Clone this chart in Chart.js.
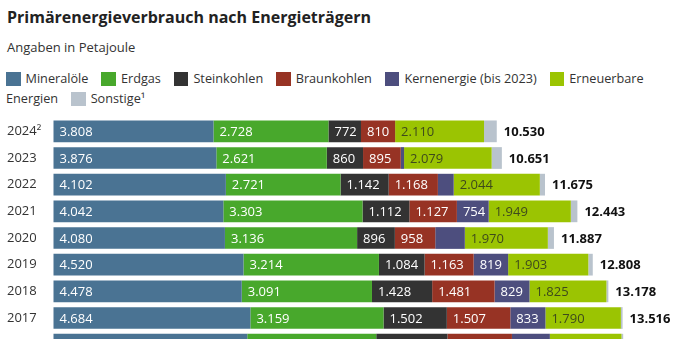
<!DOCTYPE html>
<html lang="de">
<head>
<meta charset="utf-8">
<script src="https://cdn.jsdelivr.net/npm/chart.js@4.4.1/dist/chart.umd.min.js"></script>
<style>
  html, body { margin: 0; padding: 0; width: 678px; height: 339px; overflow: hidden; background: #fff; }
  body { font-family: "Open Sans", sans-serif; color: #222; position: relative; }
  h1 { position: absolute; left: 7px; top: 6px; margin: 0; font-size: 16px; font-weight: 700; color: #222; }
  .sub { position: absolute; left: 7px; top: 38px; font-size: 13px; color: #333; }
  .legend { position: absolute; left: 6px; top: 68px; width: 669px; font-size: 12.7px; line-height: 20px; color: #333; }
  .legend span { margin-right: 13px; }
  .legend i { display: inline-block; width: 14.5px; height: 14.5px; margin-right: 5px; vertical-align: -3px; }
  .chart { position: absolute; left: 0; top: 118px; width: 678px; height: 240px; }
</style>
</head>
<body>
<h1>Primärenergieverbrauch nach Energieträgern</h1>
<div class="sub">Angaben in Petajoule</div>
<div class="legend" id="legend"></div>
<div class="chart"><canvas id="chart"></canvas></div>
<script>
const years = ['2024²', '2023', '2022', '2021', '2020', '2019', '2018', '2017', '2016'];
const mineraloele = [3808, 3876, 4102, 4042, 4080, 4520, 4478, 4684, 4610];
const erdgas = [2728, 2621, 2721, 3303, 3136, 3214, 3091, 3159, 3060];
const steinkohlen = [772, 860, 1142, 1112, 896, 1084, 1428, 1502, 1690];
const braunkohlen = [810, 895, 1168, 1127, 958, 1163, 1481, 1507, 1530];
const kernenergie = [0, 78, 375, 754, 702, 819, 829, 833, 900];
const erneuerbare = [2110, 2079, 2044, 1949, 1970, 1903, 1825, 1790, 1700];
const sonstige = [302, 242, 123, 156, 145, 105, 46, 41, 40];
const totals = [10530, 10651, 11675, 12443, 11887, 12808, 13178, 13516, 13530];

const series = [
  { label: 'Mineralöle', data: mineraloele, color: '#4a7393' },
  { label: 'Erdgas', data: erdgas, color: '#48a82c' },
  { label: 'Steinkohlen', data: steinkohlen, color: '#333333' },
  { label: 'Braunkohlen', data: braunkohlen, color: '#973324' },
  { label: 'Kernenergie (bis 2023)', data: kernenergie, color: '#4d4e7e' },
  { label: 'Erneuerbare Energien', data: erneuerbare, color: '#9bc402' },
  { label: 'Sonstige¹', data: sonstige, color: '#b9c3cd' },
];

// html legend, so "Erneuerbare Energien" can wrap like in the original
document.getElementById('legend').innerHTML = series
  .map(s => `<span><i style="background:${s.color}"></i>${s.label}</span>`)
  .join('');

const fmt = v => String(v).replace(/\B(?=(\d{3})+(?!\d))/g, '.');

const valueLabels = {
  id: 'valueLabels',
  afterDatasetsDraw(chart) {
    const ctx = chart.ctx;
    ctx.save();
    ctx.font = '13px "Open Sans"';
    ctx.textBaseline = 'middle';
    ctx.textAlign = 'left';
    chart.data.datasets.forEach((ds, i) => {
      if (i === 6) return;
      chart.getDatasetMeta(i).data.forEach((bar, j) => {
        const v = ds.data[j];
        if (v < 740) return;
        ctx.fillStyle = i === 5 ? '#3e4a1c' : '#fff';
        ctx.fillText(fmt(v), Math.min(bar.x, bar.base) + 6, bar.y + 1);
      });
    });
    ctx.restore();
  },
  afterDraw(chart) {
    // totals go on top of the grid lines
    const ctx = chart.ctx;
    ctx.save();
    ctx.font = 'bold 13px "Open Sans"';
    ctx.textBaseline = 'middle';
    ctx.textAlign = 'left';
    ctx.fillStyle = '#111';
    chart.getDatasetMeta(6).data.forEach((bar, j) => {
      ctx.fillText(fmt(totals[j]), bar.x + 7, bar.y + 1);
    });
    ctx.restore();
  }
};

new Chart(document.getElementById('chart'), {
  type: 'bar',
  data: {
    labels: years,
    datasets: series.map(s => ({
      label: s.label,
      data: s.data,
      backgroundColor: s.color,
      borderWidth: 0,
      barPercentage: 0.815,
      categoryPercentage: 1,
    })),
  },
  options: {
    indexAxis: 'y',
    responsive: true,
    maintainAspectRatio: false,
    animation: false,
    layout: { padding: { left: 7, right: 35, top: 0, bottom: 0 } },
    plugins: { legend: { display: false }, tooltip: { enabled: false } },
    scales: {
      x: {
        stacked: true,
        min: 0,
        max: 14000,
        z: 1,
        ticks: { display: false, stepSize: 2000 },
        border: { display: false },
        grid: {
          color: c => (c.tick && c.tick.value === 0 ? 'rgba(0,0,0,0)' : 'rgba(255,255,255,0.75)'),
          lineWidth: 1,
          drawTicks: false,
        },
        afterFit: s => {
          s.height = 0;
          s.paddingLeft = 0;
          s.paddingRight = 0;
        },
      },
      y: {
        stacked: true,
        grid: { display: false },
        border: { display: false },
        ticks: {
          crossAlign: 'far',
          color: '#333',
          font: { family: 'Open Sans', size: 13 },
        },
        afterFit: s => {
          s.width = 46;
          s.paddingTop = 0;
          s.paddingBottom = 0;
        },
      },
    },
  },
  plugins: [valueLabels],
});
</script>
</body>
</html>
